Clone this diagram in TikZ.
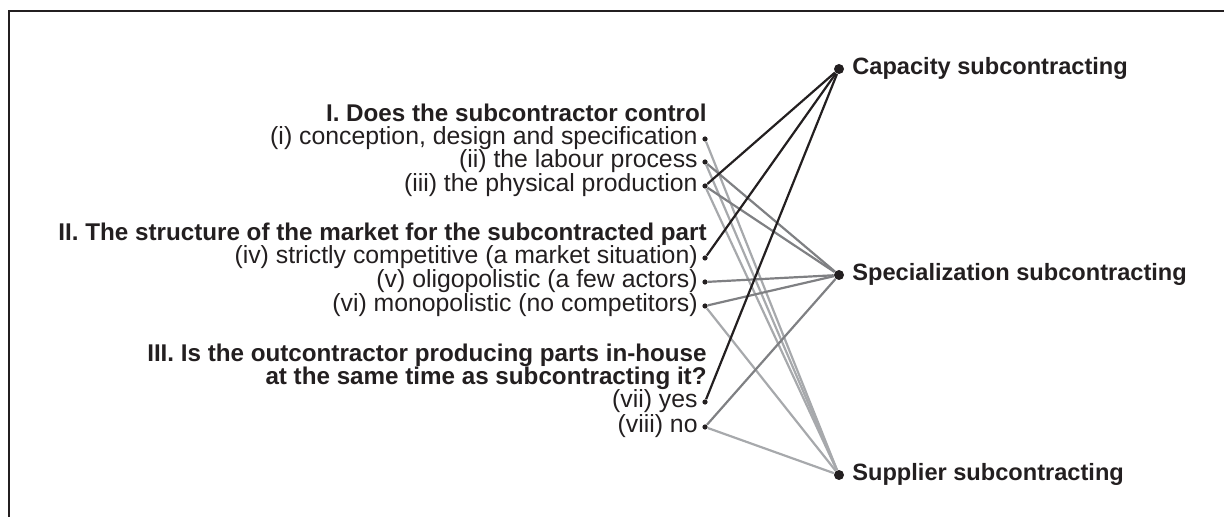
\documentclass[tikz,border=0pt]{standalone}
\usepackage{fontspec}
\setmainfont{Liberation Sans}
\definecolor{ink}{HTML}{231F20}
\definecolor{midgray}{HTML}{7F8083}
\definecolor{lightgray}{HTML}{A7A9AC}
\begin{document}
\begin{tikzpicture}[x=0.5pt,y=-0.5pt,
  item/.style={anchor=mid east, inner sep=0pt, text=ink, font=\fontsize{12.4}{14}\selectfont},
  head/.style={anchor=mid east, inner sep=0pt, text=ink, font=\fontsize{12.1}{14}\selectfont\bfseries},
  lab/.style={anchor=mid west, inner sep=0pt, text=ink, font=\fontsize{11.8}{14}\selectfont\bfseries},
  ldot/.style={circle, fill=ink, inner sep=0pt, minimum size=2.6pt},
  rdot/.style={circle, fill=ink, inner sep=0pt, minimum size=5pt},
  lnk/.style={line width=1.1pt},
  blk/.style={lnk, draw=ink},
  mid/.style={lnk, draw=midgray},
  lgt/.style={lnk, draw=lightgray}]
\useasboundingbox (0,0) rectangle (1224,517);
\draw[ink, line width=1pt] (9,517) -- (9,11) -- (1224,11);

% left dots
\node[ldot] (p1) at (705,139) {};
\node[ldot] (p2) at (705,162) {};
\node[ldot] (p3) at (705,186) {};
\node[ldot] (p4) at (705,258) {};
\node[ldot] (p5) at (705,282) {};
\node[ldot] (p6) at (705,306) {};
\node[ldot] (p7) at (705,402) {};
\node[ldot] (p8) at (705,427) {};
% right dots
\node[rdot] (c1) at (839,69) {};
\node[rdot] (c2) at (839,275) {};
\node[rdot] (c3) at (839,475) {};

% texts
\node[head] (h1) at (707,116) {I. Does the subcontractor control};
\node[item] (t1) at (698,139) {(i) conception, design and specification};
\node[item] (t2) at (698,162) {(ii) the labour process};
\node[item] (t3) at (698,186) {(iii) the physical production};
\node[head] (h2) at (707,235) {II. The structure of the market for the subcontracted part};
\node[item] (t4) at (698,258) {(iv) strictly competitive (a market situation)};
\node[item] (t5) at (698,282) {(v) oligopolistic (a few actors)};
\node[item] (t6) at (698,306) {(vi) monopolistic (no competitors)};
\node[head] (h3a) at (707,356) {III. Is the outcontractor producing parts in-house};
\node[head] (h3b) at (707,379) {at the same time as subcontracting it?};
\node[item] (t7) at (698,402) {(vii) yes};
\node[item] (t8) at (698,427) {(viii) no};

\node[lab] (l1) at (852,69) {Capacity subcontracting};
\node[lab] (l2) at (852,275) {Specialization subcontracting};
\node[lab] (l3) at (852,475) {Supplier subcontracting};

% connectors
\draw[lgt] (p1) -- (c3);
\draw[lgt] (p2) -- (c3);
\draw[lgt] (p3) -- (c3);
\draw[lgt] (p6) -- (c3);
\draw[lgt] (p8) -- (c3);
\draw[mid] (p2) -- (c2);
\draw[mid] (p3) -- (c2);
\draw[mid] (p5) -- (c2);
\draw[mid] (p6) -- (c2);
\draw[mid] (p8) -- (c2);
\draw[blk] (p3) -- (c1);
\draw[blk] (p4) -- (c1);
\draw[blk] (p7) -- (c1);
\end{tikzpicture}
\end{document}
